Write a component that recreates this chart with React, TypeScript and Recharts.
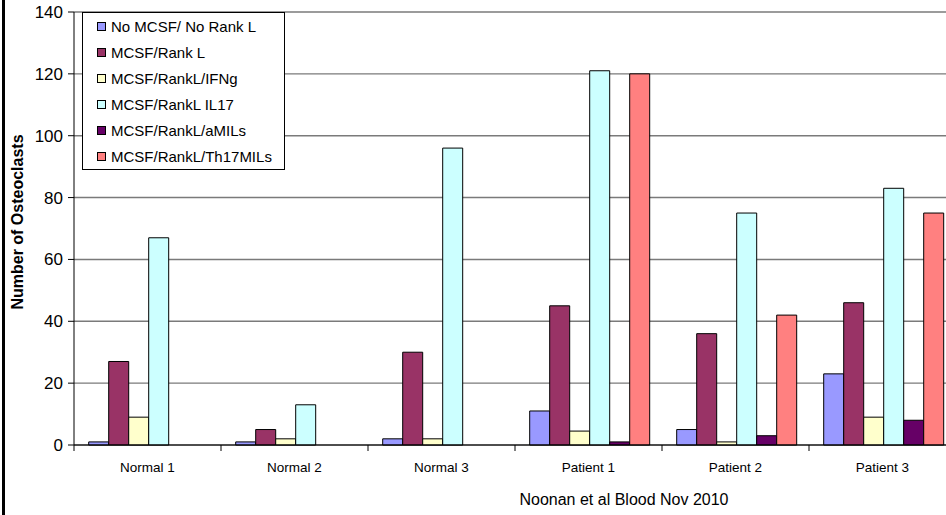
import React from "react";
import { BarChart, Bar, XAxis, YAxis, CartesianGrid } from "recharts";

const categories = ["Normal 1", "Normal 2", "Normal 3", "Patient 1", "Patient 2", "Patient 3"];

const noMcsf = [1, 1, 2, 11, 5, 23];
const mcsfRankL = [27, 5, 30, 45, 36, 46];
const rankLIfng = [9, 2, 2, 4.5, 1, 9];
const rankLIl17 = [67, 13, 96, 121, 75, 83];
const rankLAmils = [null, null, null, 1, 3, 8];
const rankLTh17 = [null, null, null, 120, 42, 75];

const yTicks = [0, 20, 40, 60, 80, 100, 120, 140];

const series = [
  { key: "noMcsf", name: "No MCSF/ No Rank L", color: "#9999FF", values: noMcsf },
  { key: "mcsfRankL", name: "MCSF/Rank L", color: "#993366", values: mcsfRankL },
  { key: "ifng", name: "MCSF/RankL/IFNg", color: "#FFFFCC", values: rankLIfng },
  { key: "il17", name: "MCSF/RankL IL17", color: "#CCFFFF", values: rankLIl17 },
  { key: "amils", name: "MCSF/RankL/aMILs", color: "#660066", values: rankLAmils },
  { key: "th17", name: "MCSF/RankL/Th17MILs", color: "#FF8080", values: rankLTh17 },
];

const data = categories.map((name, i) => {
  const row: Record<string, string | number | null> = { name };
  series.forEach((s) => (row[s.key] = s.values[i]));
  return row;
});

const FONT = '"Liberation Sans", Arial, sans-serif';
const CHART_W = 960;
const CHART_H = 515;
const AXIS_X = 74;
const PLOT_RIGHT = 956;
const BAND = (PLOT_RIGHT - AXIS_X) / categories.length;

function CategoryTick({ x, y, payload }: any) {
  const edge = x - BAND / 2;
  return (
    <g>
      <line x1={edge} x2={edge} y1={y} y2={y + 6} stroke="#000" />
      <text x={x} y={y + 22} dy="0.35em" textAnchor="middle" fontSize={13.5} fill="#000" fontFamily={FONT}>
        {payload.value}
      </text>
    </g>
  );
}

function LegendBox() {
  return (
    <div
      style={{
        position: "absolute",
        left: 82,
        top: 12,
        width: 203,
        height: 158,
        boxSizing: "border-box",
        border: "1px solid #000",
        background: "#fff",
        fontFamily: FONT,
        fontSize: 15,
        color: "#000",
      }}
    >
      {series.map((s) => (
        <div key={s.key} style={{ height: 26, display: "flex", alignItems: "center", paddingLeft: 14 }}>
          <span
            style={{
              width: 9,
              height: 9,
              background: s.color,
              border: "1px solid #000",
              marginRight: 5,
              boxSizing: "border-box",
              display: "inline-block",
            }}
          />
          <span style={{ whiteSpace: "nowrap" }}>{s.name}</span>
        </div>
      ))}
    </div>
  );
}

export default function App() {
  return (
    <div
      style={{
        position: "fixed",
        left: 0,
        top: 0,
        width: 946,
        height: 515,
        overflow: "hidden",
        background: "#fff",
      }}
    >
      <div style={{ position: "absolute", left: 2, top: 0, width: 3, height: 515, background: "#000" }} />
      <BarChart
        width={CHART_W}
        height={CHART_H}
        data={data}
        margin={{ top: 12, right: CHART_W - PLOT_RIGHT, bottom: 0, left: 0 }}
        barCategoryGap="10%"
        barGap={0}
      >
        <CartesianGrid vertical={false} stroke="#7a7a7a" strokeWidth={1.4} />
        <XAxis
          dataKey="name"
          height={70}
          axisLine={{ stroke: "#000" }}
          tickLine={false}
          tickSize={0}
          tickMargin={0}
          interval={0}
          tick={<CategoryTick />}
          label={{
            value: "Noonan et al Blood Nov 2010",
            position: "insideBottom",
            offset: 10,
            dx: 109,
            fontSize: 16,
            fill: "#000",
            fontFamily: FONT,
          }}
        />
        <YAxis
          width={AXIS_X}
          domain={[0, 140]}
          ticks={yTicks}
          interval={0}
          axisLine={{ stroke: "#000" }}
          tickLine={{ stroke: "#000" }}
          tickSize={6}
          tickMargin={5}
          tick={{ fontSize: 17, fill: "#000", fontFamily: FONT }}
          label={{
            content: () => (
              <text
                transform="translate(17,222) rotate(-90)"
                textAnchor="middle"
                dominantBaseline="central"
                fontSize={16}
                fontWeight="bold"
                fill="#000"
                fontFamily={FONT}
              >
                Number of Osteoclasts
              </text>
            ),
          }}
        />
        {series.map((s) => (
          <Bar key={s.key} dataKey={s.key} name={s.name} fill={s.color} stroke="#000" strokeWidth={1} isAnimationActive={false} />
        ))}
      </BarChart>
      <LegendBox />
    </div>
  );
}
